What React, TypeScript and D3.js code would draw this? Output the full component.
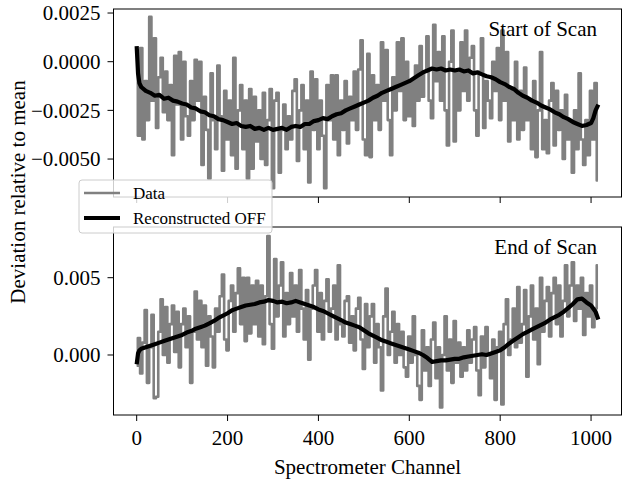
import React from 'react';
import * as d3 from 'd3';

const W = 623;
const H = 481;
const FONT = '"Liberation Serif", "Times New Roman", serif';

const xTicks = [0, 200, 400, 600, 800, 1000];
const topYTicks = [0.0025, 0, -0.0025, -0.005];
const topYTickLabels = ['0.0025', '0.0000', '\u22120.0025', '\u22120.0050'];
const bottomYTicks = [0, 0.005];
const bottomYTickLabels = ['0.000', '0.005'];
const seriesNames = ['Data', 'Reconstructed OFF'];
const panelTitles = ['Start of Scan', 'End of Scan'];

// values in units of 1e-4, one per 5 channels starting at channel 0
const CHANNEL_STEP = 5;
const UNIT = 1e-4;

const topData = [
  6, -38, 7, -40, -10, -30, 23, -20, 12, -34, -8, 2, -26, -5, -30, -12, -48, 3, -22, 5,
  -40, 0, -28, -38, -10, -30, 1, -20, 0, -53, -18, -35, -60, -6, -30, -45, -2, -28, -56, -15,
  -40, -20, -48, 2, -55, -25, -12, -45, -20, -60, -14, -55, -18, -41, -25, -50, -16, -53, -30, -14,
  -65, -20, -16, -57, -35, -22, -45, -28, -40, -15, -9, -51, -25, -12, -45, -20, -62, -5, -35, -9,
  -45, -20, -38, -65, -12, -30, -7, -40, -7, -48, -20, -35, -10, -42, -18, -30, -5, -35, -4, 11,
  -40, -48, 4, -49, -7, -30, -12, -35, 10, -20, 6, -30, -48, -8, -25, 10, -15, 12, -30, 0,
  -28, -10, -33, -2, -20, 8, -18, -5, 13, -20, -29, 19, -10, 5, -20, 13, -25, -43, 0, 16,
  -41, -5, -25, 10, -15, 16, -20, 2, 8, -25, -38, -5, 12, -34, -10, -20, -29, 0, -15, 7,
  -30, 16, -20, 5, -41, -15, -30, 0, -40, -15, -35, -3, -30, -20, -45, -10, -49, -25, 5, -45,
  -30, -47, -20, -11, -43, -15, -35, -25, -50, -17, -40, -30, -57, -25, -45, -6, -40, -53, -30, -48,
  -15, -40, -11, -61,
];

const bottomData = [
  -7, 11, -12, 8, 29, -18, 5, 26, -28, -27, 15, 36, 0, 31, -5, 20, 32, 2, 28, -8,
  20, 30, 5, 25, -18, 15, 41, 10, 35, 5, 32, -7, 25, 12, -8, 30, 15, 38, 52, 10,
  3, 35, 45, 15, 40, 56, 20, 50, 9, 50, 14, 45, 20, 48, 12, 45, 7, 38, 77, 20,
  4, 62, 25, 45, 60, 12, 40, 20, 53, 25, 45, 15, 55, 30, 10, 42, -3, 30, 45, 55,
  15, 40, 10, 35, 49, 15, 30, 45, 10, 58, 20, 12, 35, 38, 8, 25, 3, 30, 37, 10,
  -9, 33, 5, 25, 33, -5, 20, 5, -23, 25, 43, 0, 15, 28, -5, 20, 0, 15, -8, -14,
  12, -5, 25, 0, -20, -29, 16, -10, 5, -20, 10, 21, -15, 5, -34, 0, 25, -10, 10, -18,
  22, -5, 8, -14, 5, -10, 16, -5, 10, 18, -10, -26, 12, -8, 18, 0, -15, 10, -29, 5,
  15, -32, 20, 36, 0, 10, 30, 5, 44, 8, 20, 42, -14, 25, 45, 10, 30, -6, 50, 15,
  35, 44, 12, 40, 50, 20, 45, 12, 35, 58, 25, 45, 60, 22, 45, 30, 50, 13, 40, 25,
  45, 18, 30, 58,
];

// reconstructed OFF: [channel, value ×1e-4]
const topFit: [number, number][] = [
  [0, 8], [3, -6], [6, -11], [10, -13], [20, -15], [30, -16], [40, -17.5], [50, -17], [60, -19], [70, -18.5],
  [80, -20], [90, -20.5], [100, -21.5], [110, -22], [120, -23.5], [130, -24], [140, -25.5], [150, -26], [160, -27.5], [170, -28],
  [180, -29.5], [190, -30], [200, -31], [210, -32], [220, -31.5], [230, -33], [240, -33.5], [250, -33], [260, -34.5], [270, -34],
  [280, -35], [290, -34], [300, -35], [310, -34.5], [320, -34], [330, -35], [340, -33.5], [350, -33], [360, -33.5], [370, -32],
  [380, -32], [390, -30.5], [400, -30], [410, -29], [420, -29.5], [430, -28], [440, -27], [450, -26.5], [460, -25], [470, -24],
  [480, -23], [490, -22], [500, -21], [510, -20], [520, -18.5], [530, -17.5], [540, -16], [550, -15], [560, -14], [570, -13],
  [580, -12], [590, -11], [600, -10], [610, -8.5], [620, -7], [630, -5.5], [640, -4.5], [650, -3.5], [660, -4], [670, -3.5],
  [680, -4.5], [690, -4], [700, -4.5], [710, -4], [720, -5], [730, -4.5], [740, -6], [750, -5.5], [760, -6.5], [770, -7.5],
  [780, -8], [790, -9], [800, -10.5], [810, -11.5], [820, -13], [830, -14], [840, -16], [850, -17.5], [860, -18.5], [870, -20],
  [880, -21], [890, -22.5], [900, -23.5], [910, -24.5], [920, -26], [930, -27], [940, -28.5], [950, -29.5], [960, -31], [970, -32],
  [980, -33], [990, -32.5], [1000, -31.5], [1005, -29], [1010, -25], [1016, -22],
];

const bottomFit: [number, number][] = [
  [0, -6], [3, 1], [6, 3], [10, 4], [20, 5], [30, 6], [40, 7], [50, 8], [60, 9], [70, 10],
  [80, 11], [90, 12], [100, 13], [110, 14.5], [120, 15.5], [130, 17], [140, 18], [150, 19], [160, 20.5], [170, 22],
  [180, 24], [190, 25.5], [200, 27], [210, 29], [220, 30], [230, 31], [240, 32], [250, 32.5], [260, 33], [270, 34],
  [280, 34.5], [290, 35.5], [300, 35], [310, 34], [320, 34.5], [330, 33.5], [340, 34], [350, 35], [360, 34], [370, 33],
  [380, 32], [390, 31], [400, 29.5], [410, 28.5], [420, 27], [430, 25.5], [440, 24], [450, 22.5], [460, 21], [470, 20],
  [480, 19], [490, 18], [500, 16], [510, 14], [520, 12.5], [530, 11], [540, 9.5], [550, 8.5], [560, 7.5], [570, 6.5],
  [580, 5.5], [590, 4.5], [600, 3.5], [610, 2.5], [620, 1.5], [630, 0], [640, -2], [650, -4.5], [660, -4], [670, -3.5],
  [680, -3.5], [690, -3], [700, -2.5], [710, -2.5], [720, -1.5], [730, -1], [740, -0.5], [750, 0], [760, 0.5], [770, 0],
  [780, 1], [790, 2], [800, 3], [810, 5], [820, 7.5], [830, 9.5], [840, 11.5], [850, 13.5], [860, 15], [870, 16.5],
  [880, 18], [890, 19.5], [900, 21], [910, 23], [920, 24.5], [930, 26], [940, 28], [950, 30.5], [960, 33], [970, 36],
  [980, 36.5], [990, 34], [1000, 32], [1010, 28], [1016, 23],
];

const LEFT = 113.5;
const RIGHT = 621.5;
const x = d3.scaleLinear().domain([-51, 1067]).range([LEFT, RIGHT]);

type PanelProps = {
  id: string;
  top: number;
  bottom: number;
  yDomain: [number, number];
  yTicks: number[];
  yTickLabels: string[];
  data: number[];
  fit: [number, number][];
  title: string;
  showXLabels: boolean;
};

function Panel(p: PanelProps) {
  const y = d3.scaleLinear().domain(p.yDomain).range([p.bottom, p.top]);
  const dataLine = d3
    .line<number>()
    .x((_, i) => x(i * CHANNEL_STEP))
    .y((v) => y(v * UNIT))
    .curve(d3.curveStep);
  const fitLine = d3
    .line<[number, number]>()
    .x((d) => x(d[0]))
    .y((d) => y(d[1] * UNIT));
  return (
    <g>
      <defs>
        <clipPath id={p.id}>
          <rect x={LEFT} y={p.top} width={RIGHT - LEFT} height={p.bottom - p.top} />
        </clipPath>
      </defs>
      <g clipPath={`url(#${p.id})`}>
        <path d={dataLine(p.data) || ''} fill="none" stroke="#808080" strokeWidth={2.6} strokeLinejoin="round" />
        <path d={fitLine(p.fit) || ''} fill="none" stroke="#000" strokeWidth={4.2} strokeLinejoin="round" />
      </g>
      <rect x={LEFT} y={p.top} width={RIGHT - LEFT} height={p.bottom - p.top} fill="none" stroke="#000" strokeWidth={1} />
      {p.yTicks.map((t, i) => (
        <g key={t}>
          <line x1={LEFT - 6} x2={LEFT} y1={y(t)} y2={y(t)} stroke="#000" strokeWidth={1} />
          <text x={LEFT - 13} y={y(t)} dy="0.35em" textAnchor="end" fontSize={21} fontFamily={FONT}>
            {p.yTickLabels[i]}
          </text>
        </g>
      ))}
      {xTicks.map((t) => (
        <g key={t}>
          <line x1={x(t)} x2={x(t)} y1={p.bottom} y2={p.bottom + 6} stroke="#000" strokeWidth={1} />
          {p.showXLabels && (
            <text x={x(t)} y={p.bottom + 30} textAnchor="middle" fontSize={21} fontFamily={FONT}>
              {t}
            </text>
          )}
        </g>
      ))}
      <text x={597} y={p.top + 27} textAnchor="end" fontSize={21} fontFamily={FONT}>
        {p.title}
      </text>
    </g>
  );
}

export default function App() {
  return (
    <svg width={W} height={H} style={{ position: 'absolute', left: 0, top: 0, background: '#fff' }}>
      <rect width={W} height={H} fill="#fff" />
      <Panel
        id="clipTop"
        top={9}
        bottom={197}
        yDomain={[-0.00695, 0.002707]}
        yTicks={topYTicks}
        yTickLabels={topYTickLabels}
        data={topData}
        fit={topFit}
        title={panelTitles[0]}
        showXLabels={false}
      />
      <Panel
        id="clipBottom"
        top={227}
        bottom={415}
        yDomain={[-0.003881, 0.008279]}
        yTicks={bottomYTicks}
        yTickLabels={bottomYTickLabels}
        data={bottomData}
        fit={bottomFit}
        title={panelTitles[1]}
        showXLabels={true}
      />
      <text x={(LEFT + RIGHT) / 2} y={474} textAnchor="middle" fontSize={21} fontFamily={FONT}>
        Spectrometer Channel
      </text>
      <text
        transform="translate(25,192) rotate(-90)"
        textAnchor="middle"
        fontSize={21}
        fontFamily={FONT}
      >
        Deviation relative to mean
      </text>
      <g>
        <rect x={79} y={180} width={193} height={53} rx={3} fill="#fff" fillOpacity={0.8} stroke="#cccccc" strokeWidth={1} />
        <line x1={84} x2={120} y1={193} y2={193} stroke="#808080" strokeWidth={2.6} />
        <text x={133} y={193} dy="0.35em" fontSize={17} fontFamily={FONT}>
          {seriesNames[0]}
        </text>
        <line x1={84} x2={120} y1={218} y2={218} stroke="#000" strokeWidth={4.2} />
        <text x={133} y={218} dy="0.35em" fontSize={17} fontFamily={FONT}>
          {seriesNames[1]}
        </text>
      </g>
    </svg>
  );
}
